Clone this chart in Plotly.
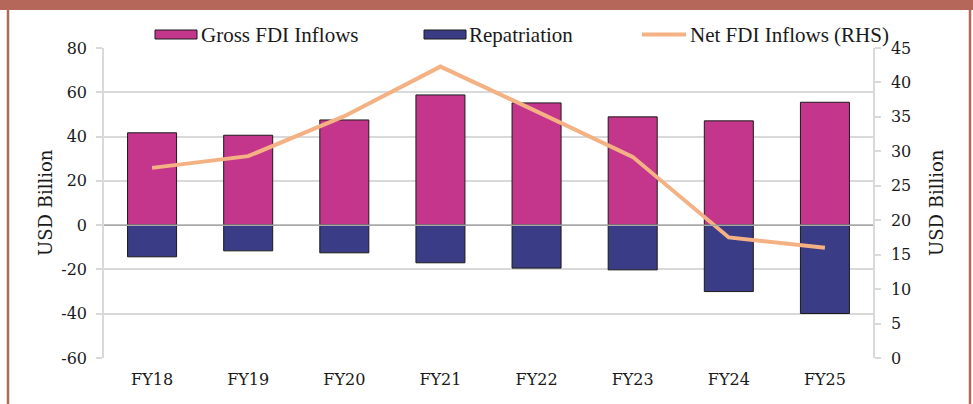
import plotly.graph_objects as go

categories = ["FY18", "FY19", "FY20", "FY21", "FY22", "FY23", "FY24", "FY25"]
gross_fdi = [41.7, 40.6, 47.5, 58.8, 55.2, 48.9, 47.1, 55.5]
repatriation = [-14.3, -11.6, -12.5, -17.0, -19.4, -20.2, -30.0, -39.9]
net_fdi = [27.6, 29.3, 35.1, 42.3, 35.8, 29.2, 17.5, 16.0]
left_ticks = [-60, -40, -20, 0, 20, 40, 60, 80]
right_ticks = [0, 5, 10, 15, 20, 25, 30, 35, 40, 45]

PINK = "#C4368C"
NAVY = "#3A3C85"
PEACH = "#F4B183"
FRAME = "#B5675A"
GRID = "#D9D9D9"
FONT = "DejaVu Serif"
LEGFONT = "Liberation Serif"

W, H = 973, 404
L, R, T, B = 104, 100, 48, 46
pw, ph = W - L - R, H - T - B


def px(x):
    return (x - L) / pw


def py(y):
    return (H - B - y) / ph


fig = go.Figure()
fig.add_trace(go.Bar(x=categories, y=gross_fdi, name="Gross FDI Inflows",
                     marker=dict(color=PINK, line=dict(color="#1a1a1a", width=1)),
                     width=0.51, showlegend=False))
fig.add_trace(go.Bar(x=categories, y=repatriation, name="Repatriation",
                     marker=dict(color=NAVY, line=dict(color="#1a1a1a", width=1)),
                     width=0.51, showlegend=False))
fig.add_trace(go.Scatter(x=categories, y=net_fdi, name="Net FDI Inflows (RHS)",
                         mode="lines", line=dict(color=PEACH, width=4),
                         yaxis="y2", showlegend=False))

shapes = [
    # zero line over bars
    dict(type="line", xref="paper", yref="y", x0=0, x1=1, y0=0, y1=0,
         line=dict(color="#A8A8A8", width=1.5), layer="above"),
    # frame
    dict(type="rect", xref="paper", yref="paper", x0=px(-2), x1=px(W + 2), y0=py(10), y1=py(-2),
         fillcolor=FRAME, line=dict(width=0), layer="above"),
    dict(type="line", xref="paper", yref="paper", x0=px(8), x1=px(8), y0=py(9), y1=py(H + 2),
         line=dict(color=FRAME, width=2.5)),
    dict(type="line", xref="paper", yref="paper", x0=px(970), x1=px(970), y0=py(9), y1=py(H + 2),
         line=dict(color=FRAME, width=2.5)),
    # legend symbols
    dict(type="rect", xref="paper", yref="paper", x0=px(155), x1=px(197), y0=py(39), y1=py(30),
         fillcolor=PINK, line=dict(color="#1a1a1a", width=1)),
    dict(type="rect", xref="paper", yref="paper", x0=px(424), x1=px(466), y0=py(39), y1=py(30),
         fillcolor=NAVY, line=dict(color="#1a1a1a", width=1)),
    dict(type="line", xref="paper", yref="paper", x0=px(642), x1=px(686), y0=py(34.5), y1=py(34.5),
         line=dict(color=PEACH, width=4)),
]

annotations = []
for xpos, txt in [(199, "Gross FDI Inflows"), (467, "Repatriation"), (688, "Net FDI Inflows (RHS)")]:
    annotations.append(dict(xref="paper", yref="paper", x=px(xpos), y=py(34.5),
                            xanchor="left", yanchor="middle", text=txt, showarrow=False,
                            font=dict(family=LEGFONT, size=21, color="#1a1a1a")))
for xpos in (45, 936):
    annotations.append(dict(xref="paper", yref="paper", x=px(xpos), y=py(203),
                            xanchor="center", yanchor="middle", text="USD Billion",
                            textangle=-90, showarrow=False,
                            font=dict(family=FONT, size=18, color="#1a1a1a")))

fig.update_layout(
    width=W, height=H,
    margin=dict(l=L, r=R, t=T, b=B),
    paper_bgcolor="white", plot_bgcolor="white",
    barmode="relative",
    showlegend=False,
    font=dict(family=FONT, size=16, color="#1a1a1a"),
    shapes=shapes,
    annotations=annotations,
    xaxis=dict(showgrid=False, showline=False, ticks="", tickfont=dict(size=16),
               ticklabelstandoff=10),
    yaxis=dict(range=[-60, 80], tickvals=left_ticks, ticktext=[str(v) for v in left_ticks],
               showgrid=True, gridcolor=GRID,
               gridwidth=1.5, zeroline=False, showline=True, linecolor=GRID, linewidth=1.5,
               ticks="outside", ticklen=6, tickcolor=GRID, tickwidth=1.5,
               ticklabelstandoff=6, tickfont=dict(size=16)),
    yaxis2=dict(range=[0, 45], tickvals=right_ticks, ticktext=[str(v) for v in right_ticks],
                overlaying="y", side="right",
                showgrid=False, zeroline=False, showline=True, linecolor=GRID, linewidth=1.5,
                ticks="outside", ticklen=6, tickcolor=GRID, tickwidth=1.5,
                ticklabelstandoff=7, tickfont=dict(size=16)),
)

fig.write_html("out.html", config={"displayModeBar": False},
               post_script="document.body.style.margin='0px';document.body.style.overflow='hidden';")
